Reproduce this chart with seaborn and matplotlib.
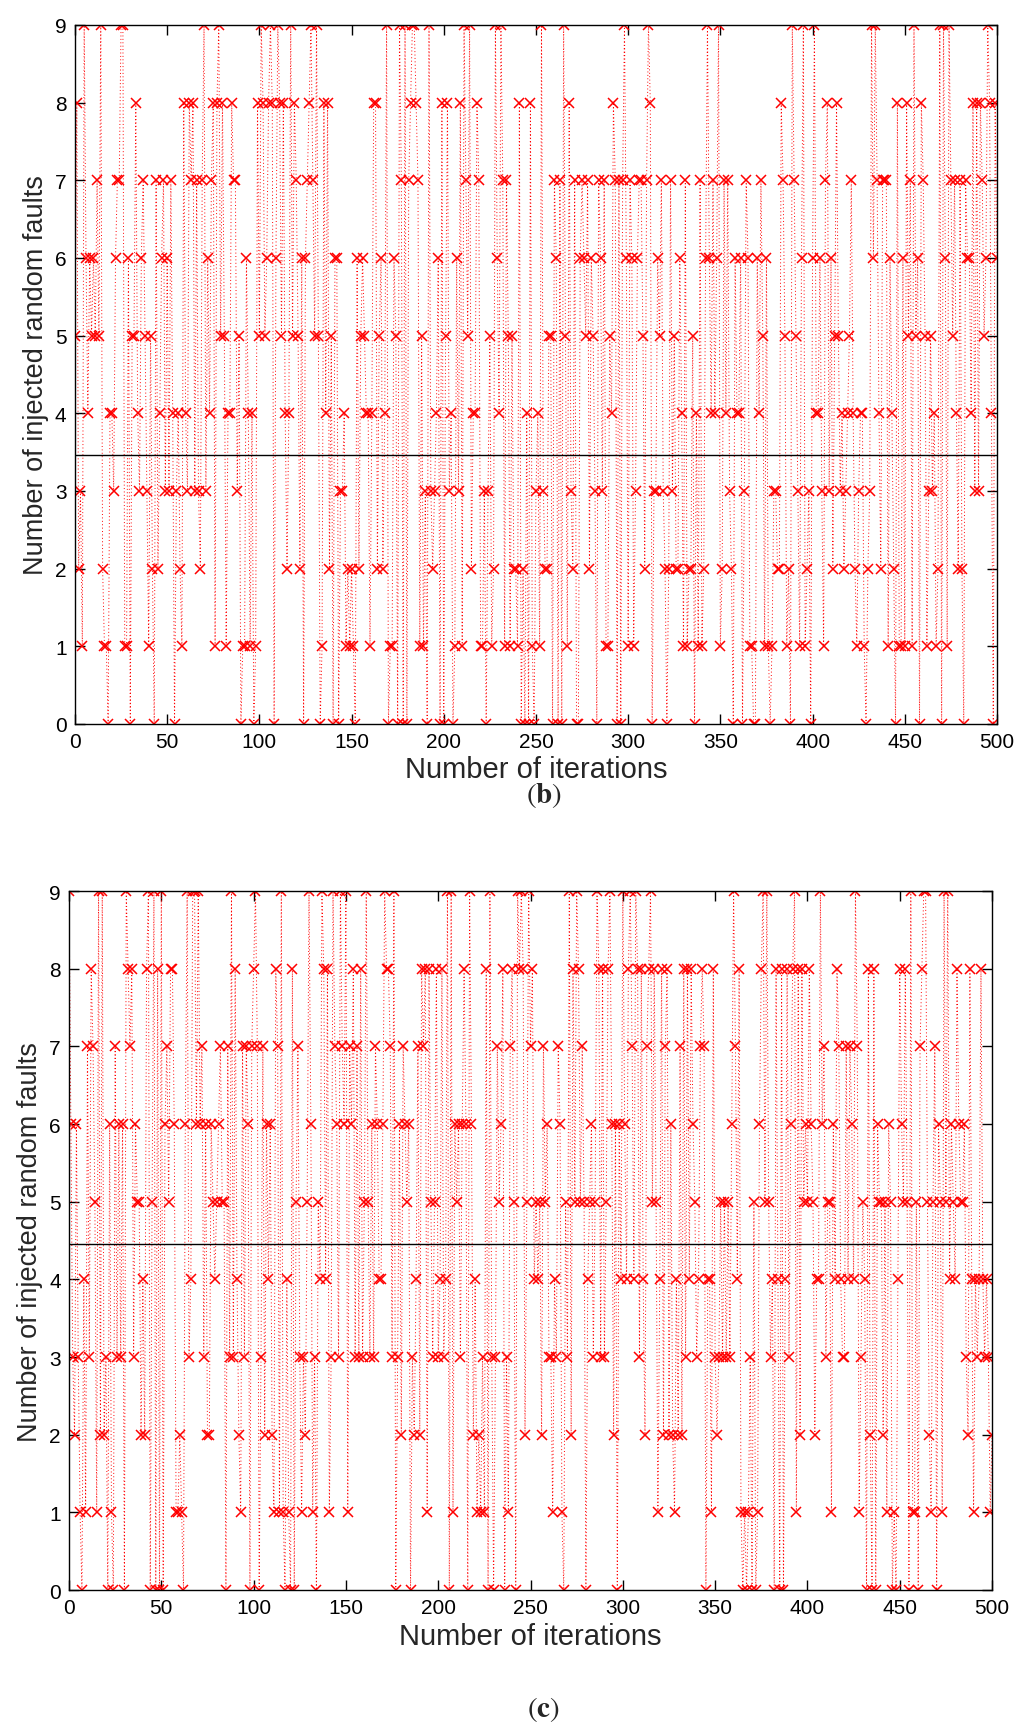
import numpy as np
import pandas as pd
import seaborn as sns
import matplotlib.pyplot as plt

# panel (b): injected faults per iteration in chunks of ~85 iterations
faults_b_1 = [5, 8, 2, 3, 1, 9, 6, 4, 6, 5, 6, 5, 7, 5, 9, 2, 1, 1, 0, 4,
              4, 3, 6, 7, 7, 9, 9, 1, 1, 6, 0, 5, 5, 8, 4, 3, 6, 7, 5, 3,
              1, 5, 2, 0, 7, 2, 4, 6, 7, 3, 6, 3, 7, 4, 0, 3, 4, 2, 1, 8,
              4, 3, 8, 7, 8, 3, 7, 3, 2, 7, 9, 3, 6, 4, 7, 8, 1, 8, 9, 5,
              8, 5, 1, 4]
faults_b_2 = [4, 8, 7, 7, 3, 5, 0, 1, 1, 6, 4, 1, 4, 0, 1, 8, 5, 9, 8, 5,
              6, 8, 9, 8, 0, 6, 9, 8, 5, 8, 4, 2, 4, 9, 5, 8, 7, 5, 2, 6,
              0, 6, 7, 8, 9, 7, 5, 9, 5, 0, 1, 8, 4, 8, 2, 5, 0, 6, 6, 0,
              3, 3, 4, 1, 2, 1, 2, 1, 0, 6, 2, 5, 6, 5, 4, 4, 1, 4, 8, 8,
              2, 5, 6, 2, 4, 9]
faults_b_3 = [0, 1, 1, 6, 5, 0, 9, 7, 0, 9, 0, 7, 8, 9, 9, 8, 7, 1, 5, 1,
              3, 0, 9, 3, 2, 3, 4, 6, 0, 8, 0, 5, 8, 3, 4, 0, 1, 6, 3, 8,
              1, 9, 7, 5, 9, 2, 4, 4, 8, 7, 1, 1, 3, 0, 3, 5, 1, 2, 9, 6,
              4, 9, 7, 1, 7, 5, 1, 5, 2, 2, 1, 8, 0, 2, 0, 4, 0, 8, 1, 0,
              3, 4, 1, 9, 3, 2, 2, 5]
faults_b_4 = [5, 0, 7, 6, 0, 7, 0, 9, 5, 1, 8, 3, 2, 7, 0, 0, 6, 7, 6, 5,
              7, 2, 6, 5, 3, 0, 7, 6, 3, 7, 1, 1, 5, 4, 8, 7, 0, 7, 0, 7,
              9, 6, 1, 7, 6, 1, 3, 6, 7, 7, 5, 2, 7, 9, 8, 0, 3, 3, 6, 5,
              7, 3, 2, 0, 2, 7, 3, 5, 2, 2, 6, 4, 1, 7, 1, 2, 2, 5, 0, 4,
              1, 7, 1, 2, 6]
faults_b_5 = [9, 6, 4, 7, 4, 6, 9, 1, 2, 7, 4, 7, 3, 2, 0, 6, 4, 4, 6, 0,
              3, 7, 6, 1, 1, 0, 0, 6, 4, 7, 5, 1, 6, 1, 0, 1, 3, 3, 2, 2,
              8, 7, 5, 1, 2, 0, 9, 7, 5, 3, 1, 6, 9, 1, 2, 3, 0, 6, 9, 4,
              4, 6, 3, 1, 7, 8, 3, 6, 2, 5, 8, 5, 3, 4, 2, 3, 4, 5, 7, 4,
              2, 1, 3, 4, 4]
faults_b_6 = [1, 0, 2, 3, 9, 6, 9, 7, 4, 2, 7, 7, 7, 1, 6, 4, 2, 0, 8, 1,
              1, 6, 1, 8, 5, 7, 1, 9, 5, 6, 0, 8, 7, 5, 1, 3, 5, 3, 4, 1,
              2, 9, 0, 9, 6, 1, 9, 7, 5, 7, 4, 2, 7, 2, 0, 7, 6, 6, 4, 8,
              3, 8, 3, 8, 7, 5, 6, 9, 8, 4, 0, 8, 6]

# panel (c)
faults_c_1 = [9, 6, 3, 2, 6, 3, 1, 0, 4, 1, 7, 3, 8, 7, 5, 1, 9, 2, 9, 2,
              3, 0, 6, 1, 0, 7, 3, 6, 3, 6, 0, 9, 8, 7, 8, 3, 6, 5, 5, 2,
              4, 2, 8, 9, 0, 5, 9, 0, 8, 0, 9, 0, 6, 7, 5, 8, 8, 6, 1, 1,
              2, 1, 0, 6, 9, 3, 4, 9, 9, 6, 9, 6, 7, 3, 6, 2, 2, 6, 5, 4,
              5, 6, 7, 5, 5, 0]
faults_c_2 = [7, 3, 9, 3, 8, 4, 2, 1, 7, 3, 7, 6, 0, 7, 8, 9, 7, 0, 3, 7,
              2, 6, 4, 6, 2, 1, 8, 7, 1, 9, 1, 0, 4, 1, 0, 8, 0, 5, 7, 3,
              1, 3, 2, 5, 9, 6, 1, 3, 0, 5, 4, 9, 8, 4, 8, 1, 3, 9, 7, 6,
              3, 9, 7, 6, 9, 1, 7, 6, 8, 3, 7, 3, 8, 3, 5, 9, 5, 3, 6, 3,
              7, 6, 4, 4, 6, 9, 8]
faults_c_3 = [8, 7, 3, 9, 0, 3, 6, 2, 7, 6, 5, 6, 0, 3, 2, 4, 7, 2, 8, 7,
              8, 1, 8, 5, 3, 5, 8, 3, 4, 8, 3, 4, 9, 0, 9, 1, 6, 5, 6, 3,
              6, 8, 6, 0, 9, 6, 2, 4, 1, 2, 1, 3, 1, 8, 0, 9, 3, 0, 3, 7,
              5, 6, 8, 0, 3, 1, 7, 8, 5, 0, 9, 8, 9, 8, 2, 5, 9, 7, 8, 4,
              5, 4, 5, 2, 7, 5, 6]
faults_c_4 = [3, 3, 1, 4, 3, 7, 6, 1, 0, 5, 3, 9, 2, 8, 5, 9, 8, 5, 7, 5,
              0, 4, 5, 6, 3, 5, 9, 8, 3, 8, 3, 5, 8, 9, 6, 2, 6, 0, 6, 4,
              9, 6, 4, 8, 9, 7, 4, 9, 8, 3, 8, 4, 2, 7, 8, 9, 5, 8, 5, 1,
              4, 8, 2, 7, 8, 2, 6, 2, 1, 4, 2, 7, 2, 8, 3, 8, 4, 8, 6, 5,
              3, 4, 7, 8, 7, 0, 4]
faults_c_5 = [4, 1, 8, 3, 2, 3, 5, 3, 5, 3, 5, 3, 6, 9, 7, 4, 8, 1, 0, 1,
              0, 1, 3, 0, 5, 0, 1, 6, 8, 9, 5, 9, 5, 3, 4, 0, 8, 4, 0, 8,
              0, 4, 8, 3, 6, 8, 9, 1, 8, 2, 8, 5, 6, 5, 8, 6, 5, 2, 4, 4,
              9, 6, 7, 3, 5, 5, 1, 6, 4, 8, 7, 4, 3, 3, 7, 4, 7, 6, 4, 9,
              7, 1, 3, 5, 4, 0, 8]
faults_c_6 = [2, 0, 8, 0, 6, 5, 5, 2, 5, 1, 6, 5, 0, 1, 0, 4, 8, 6, 5, 8,
              5, 0, 9, 1, 1, 5, 0, 7, 8, 9, 9, 5, 2, 1, 5, 7, 0, 6, 5, 1,
              9, 5, 9, 4, 6, 5, 4, 8, 6, 5, 5, 6, 3, 2, 8, 4, 1, 4, 3, 4,
              8, 4, 3, 4, 3, 1, 2]

faults_b = faults_b_1 + faults_b_2 + faults_b_3 + faults_b_4 + faults_b_5 + faults_b_6
faults_c = faults_c_1 + faults_c_2 + faults_c_3 + faults_c_4 + faults_c_5 + faults_c_6

# horizontal reference lines
level_b = 3.46
level_c = 4.46

x_ticks = list(range(0, 501, 50))
y_ticks = list(range(0, 10))

sns.set_style("ticks")
plt.rcParams['font.family'] = ['Liberation Sans', 'DejaVu Sans']
plt.rcParams['mathtext.fontset'] = 'stix'

fig = plt.figure(figsize=(10.24, 17.33), dpi=100)
ax_b = fig.add_axes([0.0732, 0.5817, 0.9004, 0.4033])
ax_c = fig.add_axes([0.0674, 0.0819, 0.9014, 0.4033])


def draw_panel(ax, faults, level):
    df = pd.DataFrame({"iteration": np.arange(len(faults)), "faults": faults})
    sns.lineplot(data=df, x="iteration", y="faults", ax=ax, estimator=None, sort=False,
                 color="red", linestyle=(0, (1, 2.5)), linewidth=0.7,
                 marker="x", markersize=7, markeredgewidth=1.1, markeredgecolor="red")
    ax.axhline(level, color="black", linewidth=1)
    ax.set_xlim(0, 500)
    ax.set_ylim(0, 9)
    ax.set_xticks(x_ticks)
    ax.set_yticks(y_ticks)
    ax.tick_params(direction="in", top=True, right=True, length=7, width=1,
                   labelsize=15, colors="black", pad=6)
    for sp in ax.spines.values():
        sp.set_visible(True)
        sp.set_linewidth(1)
        sp.set_color("black")
    ax.set_xlabel("Number of iterations", fontsize=21, labelpad=3)
    ax.set_ylabel("Number of injected random faults", fontsize=19.5, labelpad=4)


draw_panel(ax_b, faults_b, level_b)
draw_panel(ax_c, faults_c, level_c)

fig.text(0.531, 1 - 796 / 1733, r"$(\mathbf{b})$", ha="center", va="center", fontsize=21)
fig.text(0.531, 1 - 1710 / 1733, r"$(\mathbf{c})$", ha="center", va="center", fontsize=21)

fig.savefig("out.png", dpi=100)
